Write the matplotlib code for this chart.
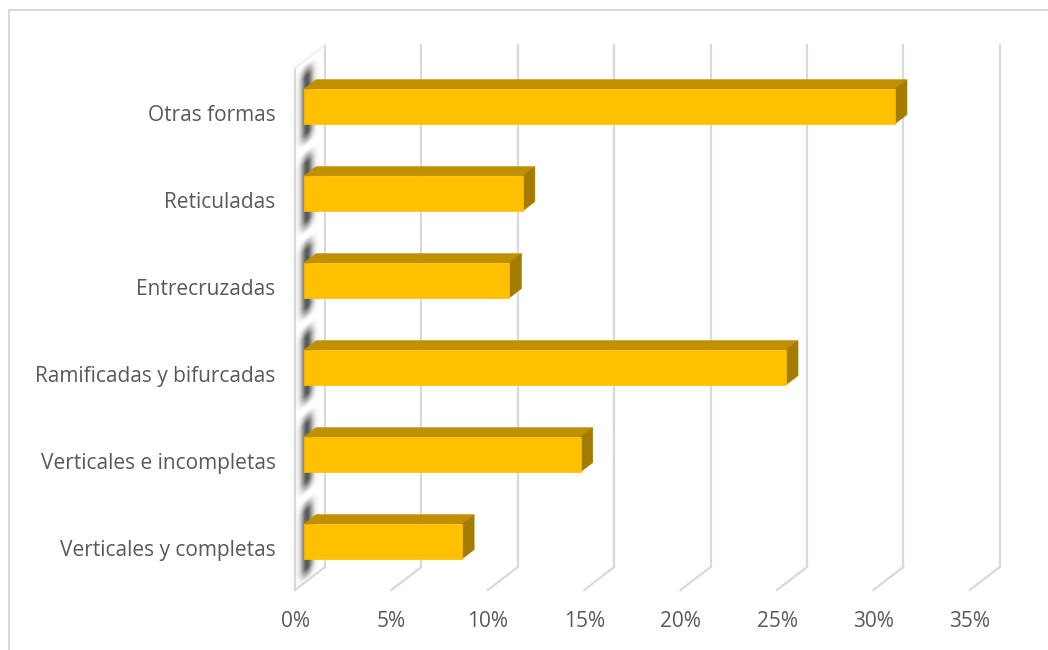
import matplotlib.pyplot as plt
from matplotlib.patches import Polygon, Rectangle
from matplotlib.transforms import Affine2D
import numpy as np

# data
categories = ["Verticales y completas", "Verticales e incompletas",
              "Ramificadas y bifurcadas", "Entrecruzadas", "Reticuladas",
              "Otras formas"]
values = [8.2, 14.35, 25.0, 10.65, 11.35, 30.65]
xticks = [0, 5, 10, 15, 20, 25, 30, 35]

plt.rcParams['font.family'] = ['Open Sans', 'DejaVu Sans']

W, H = 1048, 650
fig = plt.figure(figsize=(W / 100, H / 100), dpi=100)

# axes covers the front plane of the 3D box (pixels measured from reference)
x0_px, x1_px = 295, 295 + 35 * 19.28
y0_px, y1_px = 590, 68
ax = fig.add_axes([x0_px / W, 1 - y0_px / H, (x1_px - x0_px) / W, (y0_px - y1_px) / H])
ax.set_zorder(1)

YMIN, YMAX = -0.48, 5.52
DX = 30 / 19.28          # depth offset in % units
DY = 23 / 87             # depth offset in category units
D_FRONT, D_BACK = 0.3, 0.7
HALF_H = 0.2

grid_c = "#d9d9d9"


def proj(x, y, d):
    return (x + d * DX, y + d * DY)


# back wall grid + floor lines
for v in xticks:
    a, b = proj(v, YMIN, 1), proj(v, YMAX, 1)
    ax.plot([a[0], b[0]], [a[1], b[1]], color=grid_c, lw=1.6, clip_on=False, zorder=1)
    c = proj(v, YMIN, 0)
    ax.plot([c[0], a[0]], [c[1], a[1]], color=grid_c, lw=1.6, clip_on=False, zorder=1)

# left wall front edge and top edge
a, b = proj(0, YMIN, 0), proj(0, YMAX, 0)
ax.plot([a[0], b[0]], [a[1], b[1]], color=grid_c, lw=1.6, clip_on=False, zorder=1)
c = proj(0, YMAX, 1)
ax.plot([b[0], c[0]], [b[1], c[1]], color="#eeeeee", lw=1.2, clip_on=False, zorder=1)

# soft shadows on the left wall behind each bar
dd = np.linspace(0, 1, 80)
yy = np.linspace(-0.48, 0.48, 120)
D, Y = np.meshgrid(dd, yy)
gx = np.exp(-((D - 0.4) / 0.2) ** 2)
gy = np.clip((0.47 - np.abs(Y)) / 0.14, 0, 1)
rgba = np.zeros(gx.shape + (4,))
rgba[..., :3] = 0.18
rgba[..., 3] = 0.8 * gx * gy

for i in range(len(categories)):
    im = ax.imshow(rgba, extent=(0, 1, i - 0.48, i + 0.48), origin="lower",
                   interpolation="bilinear", aspect="auto", zorder=2, clip_on=False)
    im.set_transform(Affine2D(np.array([[DX, 0, 0], [DY, 1, 0], [0, 0, 1]])) + ax.transData)

# 3D bars
front_c, top_c, side_c = "#FFC000", "#C09000", "#A47D00"
for i, v in enumerate(values):
    yb, yt = i - HALF_H, i + HALF_H
    front = [proj(0, yb, D_FRONT), proj(v, yb, D_FRONT), proj(v, yt, D_FRONT), proj(0, yt, D_FRONT)]
    top = [proj(0, yt, D_FRONT), proj(v, yt, D_FRONT), proj(v, yt, D_BACK), proj(0, yt, D_BACK)]
    side = [proj(v, yb, D_FRONT), proj(v, yb, D_BACK), proj(v, yt, D_BACK), proj(v, yt, D_FRONT)]
    for pts, col in [(top, top_c), (side, side_c), (front, front_c)]:
        ax.add_patch(Polygon(pts, closed=True, facecolor=col, edgecolor=col,
                             lw=0.5, clip_on=False, zorder=3))

ax.set_xlim(0, 35)
ax.set_ylim(YMIN, YMAX)
ax.set_xticks(xticks)
ax.set_xticklabels([f"{v}%" for v in xticks])
ax.set_yticks(range(len(categories)))
ax.set_yticklabels(categories)
ax.tick_params(axis="x", length=0, pad=15, labelsize=15, labelcolor="#595959")
ax.tick_params(axis="y", length=0, pad=14, labelsize=15, labelcolor="#595959")
for s in ax.spines.values():
    s.set_visible(False)
ax.patch.set_visible(False)

# chart area border
fig.add_artist(Rectangle((8.5 / W, -0.1), 1.1, 1 - 10 / H + 0.1, transform=fig.transFigure,
                         fill=False, edgecolor="#d9d9d9", lw=1.5))

fig.savefig("out.png", dpi=100)
